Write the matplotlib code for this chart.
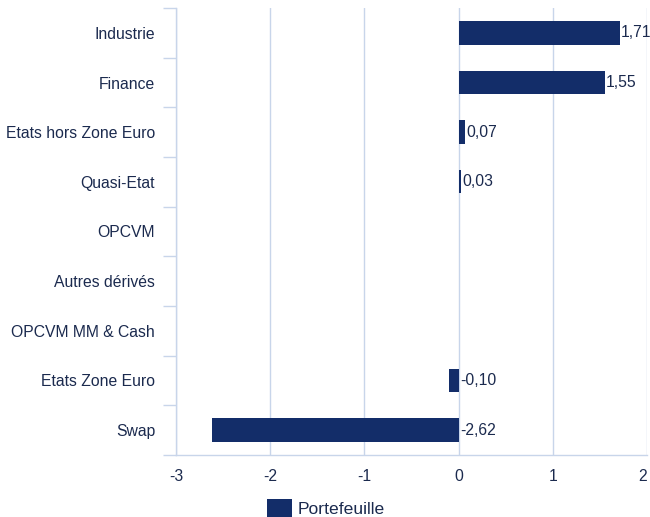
import numpy as np
import matplotlib.pyplot as plt

plt.rcParams['font.family'] = ['Liberation Sans', 'DejaVu Sans']

# Data (top to bottom)
categories = ["Industrie", "Finance", "Etats hors Zone Euro", "Quasi-Etat", "OPCVM",
              "Autres dérivés", "OPCVM MM & Cash", "Etats Zone Euro", "Swap"]
values = [1.71, 1.55, 0.07, 0.03, np.nan, np.nan, np.nan, -0.10, -2.62]
series_name = "Portefeuille"

bar_color = "#132d69"
text_color = "#1b2a4e"
grid_color = "#c8d5ea"
fs = 11.3

fig = plt.figure(figsize=(6.5, 5.17), dpi=100)
ax = fig.add_axes([0.2708, 0.12, 0.7246, 0.8645])

y = np.arange(len(categories))
ax.barh(y, values, height=0.47, color=bar_color, label=series_name, zorder=3)

for yi, v in zip(y, values):
    if np.isnan(v):
        continue
    ax.text(max(v, 0) + 0.015, yi, f"{v:.2f}".replace(".", ","), va="center", ha="left",
            fontsize=fs, color=text_color, zorder=4)

ax.set_xlim(-3, 2)
ax.set_ylim(len(categories) - 0.5, -0.5)
ax.set_xticks([-3, -2, -1, 0, 1, 2])
ax.set_xticklabels(["-3", "-2", "-1", "0", "1", "2"])
ax.get_xticklabels()[-1].set_ha("right")
ax.set_yticks(y)
ax.set_yticklabels(categories)
ax.set_yticks(np.arange(-0.5, len(categories), 1), minor=True)

ax.grid(axis="x", color=grid_color, linewidth=1, zorder=0)
ax.tick_params(axis="x", length=0, pad=10, labelsize=fs, labelcolor=text_color)
ax.tick_params(axis="y", which="major", length=0, pad=15, labelsize=fs, labelcolor=text_color)
ax.tick_params(axis="y", which="minor", length=9.5, width=1, color=grid_color)

for side in ["top", "right"]:
    ax.spines[side].set_visible(False)
for side in ["left", "bottom"]:
    ax.spines[side].set_color(grid_color)
    ax.spines[side].set_linewidth(1)

leg = fig.legend(loc="lower left", bbox_to_anchor=(0.386, -0.03), frameon=False,
                 fontsize=12.6, handlelength=1.45, handleheight=1.15, handletextpad=0.3)
for t in leg.get_texts():
    t.set_color(text_color)

fig.savefig("out.png", dpi=100)
